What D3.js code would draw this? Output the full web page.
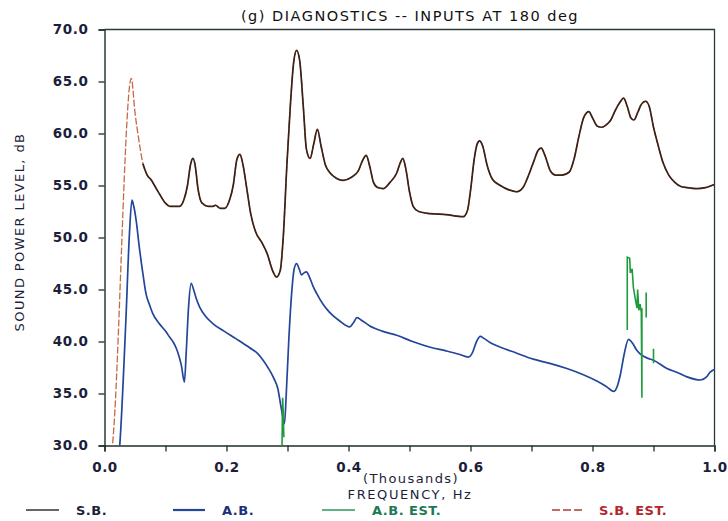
<!DOCTYPE html>
<html>
<head>
<meta charset="utf-8">
<script src="https://cdn.jsdelivr.net/npm/d3@7"></script>
<style>
  body { margin: 0; background: #fff; }
  svg { display: block; font-family: "DejaVu Sans", sans-serif; }
</style>
</head>
<body>
<div id="chart"></div>
<script>
// ---- data (frequency in thousands of Hz, level in dB) ----
const yTicks = [30, 35, 40, 45, 50, 55, 60, 65, 70];
const xTicks = [0, 0.1, 0.2, 0.3, 0.4, 0.5, 0.6, 0.7, 0.8, 0.9, 1.0];
const xLabelTicks = [0, 0.2, 0.4, 0.6, 0.8, 1.0];

// rising part seen only on the estimate trace
const sbEstLead = [
  [0.010, 28.5], [0.013, 30], [0.044, 65.3], [0.050, 62.0], [0.056, 59.5]
];

const sbCurve = [
  [0.063, 57.1], [0.070, 56.0], [0.077, 55.5], [0.082, 55.0], [0.090, 54.2],
  [0.100, 53.3], [0.107, 53.0], [0.123, 53.0], [0.130, 53.6], [0.136, 55.0],
  [0.141, 57.0], [0.145, 57.6], [0.149, 56.8], [0.153, 54.8], [0.160, 53.3],
  [0.170, 53.0], [0.178, 53.0], [0.182, 53.1], [0.190, 52.8], [0.197, 52.8],
  [0.205, 53.6], [0.211, 55.0], [0.217, 57.5], [0.222, 58.0], [0.227, 57.0],
  [0.233, 54.8], [0.240, 52.2], [0.248, 50.5], [0.258, 49.5], [0.267, 48.4],
  [0.275, 46.9], [0.282, 46.2], [0.288, 46.8], [0.293, 50.0], [0.299, 57.0],
  [0.305, 63.0], [0.310, 66.8], [0.315, 68.0], [0.320, 67.0], [0.326, 62.5],
  [0.331, 58.5], [0.337, 57.6], [0.343, 59.0], [0.349, 60.4], [0.355, 58.8],
  [0.362, 57.0], [0.370, 56.2], [0.380, 55.7], [0.391, 55.5], [0.405, 55.8],
  [0.416, 56.4], [0.423, 57.4], [0.429, 57.9], [0.435, 56.8], [0.441, 55.3],
  [0.448, 54.8], [0.457, 54.7], [0.468, 55.3], [0.479, 56.2], [0.485, 57.2],
  [0.489, 57.6], [0.494, 56.6], [0.500, 54.4], [0.506, 53.0], [0.515, 52.5],
  [0.534, 52.3], [0.560, 52.2], [0.588, 52.0], [0.595, 52.6], [0.600, 54.5],
  [0.606, 57.5], [0.611, 59.0], [0.615, 59.3], [0.620, 58.8], [0.627, 57.0],
  [0.636, 55.6], [0.649, 55.0], [0.662, 54.6], [0.676, 54.4], [0.686, 54.8],
  [0.694, 55.8], [0.703, 57.2], [0.711, 58.4], [0.716, 58.6], [0.722, 57.9],
  [0.731, 56.4], [0.740, 56.0], [0.750, 56.0], [0.762, 56.3], [0.770, 57.6],
  [0.778, 59.8], [0.786, 61.6], [0.794, 62.1], [0.800, 61.5], [0.808, 60.7],
  [0.815, 60.6], [0.822, 60.8], [0.830, 61.3], [0.838, 62.3], [0.845, 63.0],
  [0.851, 63.4], [0.857, 62.6], [0.863, 61.5], [0.868, 61.3], [0.874, 62.0],
  [0.880, 62.8], [0.887, 63.1], [0.893, 62.6], [0.900, 60.6], [0.907, 59.0],
  [0.915, 57.3], [0.925, 56.0], [0.935, 55.3], [0.945, 54.9], [0.955, 54.8],
  [0.970, 54.7], [0.985, 54.8], [1.000, 55.1]
];

const abCurve = [
  [0.022, 28.0], [0.025, 30.0], [0.035, 42.0], [0.041, 50.5], [0.045, 53.6],
  [0.048, 53.0], [0.052, 51.6], [0.057, 49.1], [0.063, 46.5], [0.068, 44.6],
  [0.074, 43.5], [0.079, 42.7], [0.090, 41.7], [0.100, 41.0], [0.107, 40.4],
  [0.113, 39.9], [0.118, 39.3], [0.122, 38.6], [0.126, 37.7], [0.131, 36.1],
  [0.134, 39.0], [0.138, 43.5], [0.142, 45.6], [0.146, 45.0], [0.150, 44.2],
  [0.156, 43.3], [0.166, 42.4], [0.178, 41.7], [0.196, 41.0], [0.216, 40.25],
  [0.238, 39.4], [0.250, 38.9], [0.260, 38.2], [0.270, 37.3], [0.278, 36.4],
  [0.284, 35.5], [0.290, 33.5], [0.295, 32.1], [0.298, 35.0], [0.302, 40.0],
  [0.306, 44.0], [0.311, 47.0], [0.315, 47.5], [0.319, 47.0], [0.323, 46.4],
  [0.327, 46.6], [0.331, 46.7], [0.336, 46.2], [0.342, 45.3], [0.348, 44.6],
  [0.358, 43.6], [0.369, 42.8], [0.385, 42.0], [0.402, 41.4], [0.408, 41.8],
  [0.414, 42.3], [0.420, 42.1], [0.435, 41.5], [0.455, 41.0], [0.479, 40.6],
  [0.505, 40.0], [0.534, 39.45], [0.560, 39.1], [0.580, 38.8], [0.597, 38.5],
  [0.603, 38.9], [0.610, 40.0], [0.616, 40.5], [0.622, 40.3], [0.632, 39.9],
  [0.649, 39.45], [0.675, 38.9], [0.703, 38.3], [0.730, 37.9], [0.758, 37.4],
  [0.785, 36.8], [0.807, 36.2], [0.822, 35.7], [0.835, 35.2], [0.840, 35.6],
  [0.846, 36.9], [0.852, 38.8], [0.859, 40.2], [0.866, 39.8], [0.872, 39.2],
  [0.878, 38.8], [0.890, 38.4], [0.900, 38.2], [0.922, 37.4], [0.940, 37.0],
  [0.955, 36.6], [0.977, 36.3], [0.987, 36.6], [0.993, 37.05], [1.000, 37.3]
];

// null = pen lifted
const abEstCurve = [
  [0.291, 30.0], [0.292, 34.6], [0.293, 33.2], [0.294, 30.8], null,
  [0.857, 41.1], [0.857, 48.1], [0.861, 48.0], [0.862, 46.6], [0.865, 47.0],
  [0.867, 45.2], [0.871, 43.8], [0.873, 43.2], [0.874, 45.0], [0.876, 43.0],
  [0.878, 43.6], [0.880, 42.8], [0.881, 34.6], [0.881, 43.2], null,
  [0.888, 44.7], [0.888, 42.3], null,
  [0.900, 39.3], [0.900, 37.9]
];

const seriesNames = ['S.B.', 'A.B.', 'A.B. EST.', 'S.B. EST.'];

// ---- layout ----
const W = 728, H = 521;
const X0 = 104.5, X1 = 714.5, Y0 = 29.5, Y1 = 445.5;
const ink = '#1c1e3a';

const svg = d3.select('#chart').append('svg')
  .attr('width', W).attr('height', H);

const x = d3.scaleLinear().domain([0, 1]).range([X0, X1]);
const y = d3.scaleLinear().domain([30, 70]).range([Y1, Y0]);

svg.append('clipPath').attr('id', 'plot-clip')
  .append('rect').attr('x', X0).attr('y', Y0).attr('width', X1 - X0).attr('height', Y1 - Y0);

// frame (top + right)
svg.append('path')
  .attr('d', `M${X0},${Y0}H${X1}V${Y1}`)
  .attr('fill', 'none').attr('stroke', '#2d3a3a').attr('stroke-width', 1.3);

// axes
const yAxis = d3.axisLeft(y).tickValues(yTicks).tickFormat(d3.format('.1f'))
  .tickSize(6).tickPadding(10);
const xAxis = d3.axisBottom(x).tickValues(xTicks)
  .tickFormat(d => xLabelTicks.some(t => Math.abs(t - d) < 1e-9) ? d3.format('.1f')(d) : '')
  .tickSize(6).tickPadding(11);

const gy = svg.append('g').attr('transform', `translate(${X0},0)`).call(yAxis);
const gx = svg.append('g').attr('transform', `translate(0,${Y1})`).call(xAxis);

[gx, gy].forEach(g => {
  g.select('.domain').attr('stroke', '#1f2f28').attr('stroke-width', 1.4);
  g.selectAll('.tick line').attr('stroke', '#1f2f28').attr('stroke-width', 1.3);
  g.selectAll('.tick text')
    .attr('fill', ink)
    .style('font-family', '"DejaVu Sans", sans-serif')
    .style('font-size', '13.5px')
    .style('font-weight', 'bold')
    .style('letter-spacing', '0.6px');
});

// curves
const line = d3.line()
  .defined(d => d != null)
  .x(d => x(d[0]))
  .y(d => y(d[1]))
  .curve(d3.curveMonotoneX);

const lineRaw = d3.line()
  .defined(d => d != null)
  .x(d => x(d[0]))
  .y(d => y(d[1]));

const plot = svg.append('g').attr('clip-path', 'url(#plot-clip)');

plot.append('path')
  .datum(sbEstLead.concat(sbCurve))
  .attr('d', line)
  .attr('fill', 'none').attr('stroke', '#c46a45').attr('stroke-width', 1.3)
  .attr('stroke-dasharray', '7,2');

plot.append('path')
  .datum(sbCurve)
  .attr('d', line)
  .attr('fill', 'none').attr('stroke', '#3a2218').attr('stroke-width', 1.7);

plot.append('path')
  .datum(abCurve)
  .attr('d', line)
  .attr('fill', 'none').attr('stroke', '#23469a').attr('stroke-width', 1.7);

plot.append('path')
  .datum(abEstCurve)
  .attr('d', lineRaw)
  .attr('fill', 'none').attr('stroke', '#1f9a3c').attr('stroke-width', 1.6);

// titles
svg.append('text')
  .attr('x', 410).attr('y', 21)
  .attr('text-anchor', 'middle')
  .attr('fill', '#111')
  .style('font-size', '14.5px')
  .style('letter-spacing', '1.5px')
  .text('(g) DIAGNOSTICS -- INPUTS AT 180 deg');

svg.append('text')
  .attr('x', 411).attr('y', 483)
  .attr('text-anchor', 'middle').attr('fill', ink)
  .style('font-size', '13px')
  .style('letter-spacing', '1.4px')
  .text('(Thousands)');

svg.append('text')
  .attr('x', 410).attr('y', 499)
  .attr('text-anchor', 'middle').attr('fill', ink)
  .style('font-size', '13px')
  .style('letter-spacing', '1.6px')
  .text('FREQUENCY, Hz');

svg.append('text')
  .attr('transform', 'translate(24,232) rotate(-90)')
  .attr('text-anchor', 'middle').attr('fill', ink)
  .style('font-size', '13px')
  .style('letter-spacing', '1.4px')
  .text('SOUND POWER LEVEL, dB');

// legend
const legendX = [26, 173, 322, 552];
const legendLineW = [33, 32, 33, 30];
const legendStroke = ['#3a3030', '#23469a', '#2a9a5a', '#b03a32'];
const legendText = ['#1c1e3a', '#1e2f7a', '#1d7a55', '#b3262e'];

const lg = svg.append('g').selectAll('g').data(seriesNames).join('g')
  .attr('transform', (d, i) => `translate(${legendX[i]},510)`);

lg.append('line')
  .attr('x1', 0).attr('x2', (d, i) => legendLineW[i])
  .attr('y1', 0).attr('y2', 0)
  .attr('stroke', (d, i) => legendStroke[i])
  .attr('stroke-width', (d, i) => i === 1 ? 2.2 : 1.4)
  .attr('stroke-dasharray', (d, i) => i === 3 ? '8,3' : null);

lg.append('text')
  .attr('x', (d, i) => legendLineW[i] + 17)
  .attr('dy', '0.35em')
  .attr('fill', (d, i) => legendText[i])
  .style('font-size', '13px')
  .style('font-weight', 'bold')
  .style('letter-spacing', '0.5px')
  .text(d => d);
</script>
</body>
</html>
